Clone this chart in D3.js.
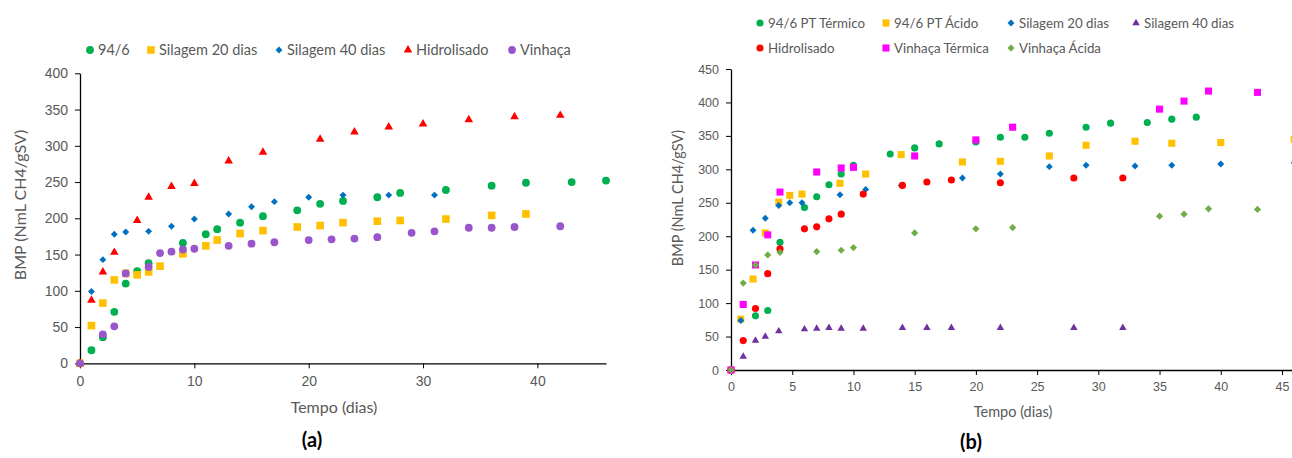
<!DOCTYPE html>
<html lang="pt">
<head>
<meta charset="utf-8">
<style>
  body { margin: 0; background: white; }
  svg { background: white; font-family: 'Lato', 'Open Sans', sans-serif; }
  .tick text { fill: #595959; }
  .axis path, .axis line { stroke: #000; }
  .legend text, .title { fill: #595959; }
  .panel { font-weight: bold; fill: #000; }
</style>
</head>
<body>
<svg width="1292" height="458"></svg>
<script src="https://cdn.jsdelivr.net/npm/d3@7"></script>
<script>
// ---- chart (a) data ----
const a9406X   = [0, 1, 2, 3, 4, 5, 6, 9, 11, 12, 14, 16, 19, 21, 23, 26, 28, 32, 36, 39, 43, 46]
const a9406Y   = [0, 18, 36, 71, 110, 127, 138, 166, 178, 185, 194, 203, 211, 220, 224, 229, 235, 239, 245, 249, 250, 252]
const aSil20X  = [0, 1, 2, 3, 4, 5, 6, 7, 9, 11, 12, 14, 16, 19, 21, 23, 26, 28, 32, 36, 39]
const aSil20Y  = [0, 52, 83, 115, 124, 122, 126, 134, 151, 162, 170, 179, 183, 188, 190, 194, 196, 197, 199, 204, 206]
const aSil40X  = [0, 1, 2, 3, 4, 6, 8, 10, 13, 15, 17, 20, 23, 27, 31]
const aSil40Y  = [0, 99, 143, 178, 181, 182, 189, 199, 206, 216, 223, 229, 232, 232, 232]
const aHidroX  = [0, 1, 2, 3, 5, 6, 8, 10, 13, 16, 21, 24, 27, 30, 34, 38, 42]
const aHidroY  = [0, 87, 126, 153, 197, 229, 244, 248, 279, 291, 309, 319, 326, 330, 336, 340, 342]
const aVinhX   = [0, 2, 3, 4, 6, 7, 8, 9, 10, 13, 15, 17, 20, 22, 24, 26, 29, 31, 34, 36, 38, 42]
const aVinhY   = [0, 40, 51, 124, 133, 152, 154, 157, 158, 162, 165, 167, 170, 171, 172, 174, 180, 182, 187, 187, 188, 189]

// ---- chart (b) data ----
const bTermX   = [0, 2, 3, 4, 6, 7, 8, 9, 10, 13, 15, 17, 20, 22, 24, 26, 29, 31, 34, 36, 38]
const bTermY   = [0, 81, 89, 191, 243, 259, 277, 293, 306, 323, 332, 338, 341, 348, 348, 354, 363, 369, 370, 375, 378]
const bAcidX   = [0, 0.8, 1.8, 2.8, 3.9, 4.8, 5.8, 8.9, 11, 13.9, 18.9, 22, 26, 29, 33, 36, 40, 46]
const bAcidY   = [0, 76, 136, 205, 251, 261, 263, 279, 293, 322, 311, 312, 320, 336, 342, 339, 340, 345]
const bSil20X  = [0, 0.8, 1.8, 2.8, 3.9, 4.8, 5.8, 8.9, 11, 13.9, 18.9, 22, 26, 29, 33, 36, 40, 46]
const bSil20Y  = [0, 74, 209, 227, 246, 250, 250, 262, 270, 276, 287, 293, 304, 306, 305, 306, 308, 310]
const bSil40X  = [0, 1, 2, 2.8, 3.9, 6, 7, 8, 9, 10.8, 14, 16, 18, 22, 28, 32]
const bSil40Y  = [0, 20, 44, 50, 58, 61, 62, 63, 62, 62, 63, 63, 63, 63, 63, 63]
const bHidroX  = [0, 1, 2, 3, 4, 6, 7, 8, 9, 10.8, 14, 16, 18, 22, 28, 32]
const bHidroY  = [0, 44, 92, 144, 181, 211, 214, 226, 233, 263, 276, 281, 284, 280, 287, 287]
const bVinhTX  = [0, 1, 2, 3, 4, 7, 9, 10, 15, 20, 23, 35, 37, 39, 43]
const bVinhTY  = [0, 98, 157, 202, 266, 296, 302, 303, 320, 344, 363, 390, 402, 417, 415]
const bVinhAX  = [0, 1, 2, 3, 4, 7, 9, 10, 15, 20, 23, 35, 37, 39, 43]
const bVinhAY  = [0, 130, 157, 172, 176, 177, 179, 183, 205, 211, 213, 230, 233, 241, 240]

const zip = (xs, ys) => xs.map((x, i) => ({x: x, y: ys[i]}))

const svg = d3.select("svg")

// marker shapes, roughly like the Excel ones (diamond = square turned 45deg)
const shapes = {
  circle:   s => d3.symbol(d3.symbolCircle, s)(),
  square:   s => d3.symbol(d3.symbolSquare, s)(),
  diamond:  s => d3.symbol(d3.symbolSquare, s)(),
  triangle: s => d3.symbol(d3.symbolTriangle, s)()
}

function drawChart(cfg) {
  const g = svg.append("g")
  const x = d3.scaleLinear().domain(cfg.xDomain).range(cfg.xRange)
  const y = d3.scaleLinear().domain(cfg.yDomain).range(cfg.yRange)

  g.append("g")
    .attr("class", "axis")
    .attr("transform", "translate(0," + cfg.yRange[0] + ")")
    .call(d3.axisBottom(x).tickValues(cfg.xTicks).tickSize(5).tickSizeOuter(0).tickPadding(cfg.xPad))
    .call(a => a.selectAll("text").style("font-size", cfg.tickFont + "px"))

  g.append("g")
    .attr("class", "axis")
    .attr("transform", "translate(" + cfg.xRange[0] + ",0)")
    .call(d3.axisLeft(y).tickValues(cfg.yTicks).tickSize(5).tickSizeOuter(0).tickPadding(7))
    .call(a => a.selectAll("text").style("font-size", cfg.tickFont + "px"))

  g.selectAll(".domain").attr("stroke-width", 1.3)

  cfg.series.forEach(function (s) {
    g.append("g").selectAll("path")
      .data(zip(s.xs, s.ys))
      .join("path")
      .attr("d", shapes[s.shape](s.size))
      .attr("fill", s.color)
      .attr("transform", d => "translate(" + x(d.x) + "," + y(d.y) + ")" + (s.shape == "diamond" ? " rotate(45)" : ""))
  })

  // legend
  const lg = g.append("g").attr("class", "legend")
  cfg.series.forEach(function (s, i) {
    const p = cfg.legendPos[i]
    lg.append("path")
      .attr("d", shapes[s.shape](s.size))
      .attr("fill", s.color)
      .attr("transform", "translate(" + p[0] + "," + p[1] + ")" + (s.shape == "diamond" ? " rotate(45)" : ""))
    lg.append("text")
      .attr("x", p[0] + 8)
      .attr("y", p[1])
      .attr("dy", "0.36em")
      .style("font-size", cfg.legendFont + "px")
      .text(s.name)
  })

  g.append("text")
    .attr("class", "title")
    .attr("transform", "translate(" + cfg.yTitle[0] + "," + cfg.yTitle[1] + ") rotate(-90)")
    .attr("text-anchor", "middle")
    .attr("dy", "0.36em")
    .style("font-size", cfg.titleFont + "px")
    .text("BMP (NmL CH4/gSV)")

  g.append("text")
    .attr("class", "title")
    .attr("x", cfg.xTitle[0]).attr("y", cfg.xTitle[1])
    .attr("text-anchor", "middle")
    .attr("dy", "0.36em")
    .style("font-size", cfg.titleFont + "px")
    .text("Tempo (dias)")

  g.append("text")
    .attr("class", "panel")
    .attr("x", cfg.panel[0]).attr("y", cfg.panel[1])
    .attr("text-anchor", "middle")
    .attr("dy", "0.36em")
    .style("font-size", "20px")
    .text(cfg.label)
}

drawChart({
  label: "(a)",
  xDomain: [0, 46], xRange: [80, 606],
  yDomain: [0, 400], yRange: [363.3, 73.3],
  xTicks: d3.range(0, 41, 10), yTicks: d3.range(0, 401, 50),
  xPad: 8, tickFont: 14, legendFont: 14.5, titleFont: 16,
  yTitle: [20, 205], xTitle: [334, 407], panel: [312, 440],
  legendPos: [[90, 50], [151, 50], [279, 50], [408, 50], [512, 50]],
  series: [
    {name: "94/6", xs: a9406X, ys: a9406Y, shape: "circle", size: 48, color: "#00B050"},
    {name: "Silagem 20 dias", xs: aSil20X, ys: aSil20Y, shape: "square", size: 58, color: "#FFC000"},
    {name: "Silagem 40 dias", xs: aSil40X, ys: aSil40Y, shape: "diamond", size: 24, color: "#0070C0"},
    {name: "Hidrolisado", xs: aHidroX, ys: aHidroY, shape: "triangle", size: 32, color: "#FF0000"},
    {name: "Vinhaça", xs: aVinhX, ys: aVinhY, shape: "circle", size: 48, color: "#9955CC"}
  ]
})

// x axis of (b) runs past the picture's right edge, as in the reference
drawChart({
  label: "(b)",
  xDomain: [0, 50], xRange: [731, 731 + 50 * 12.244],
  yDomain: [0, 450], yRange: [370, 69],
  xTicks: d3.range(0, 46, 5), yTicks: d3.range(0, 451, 50),
  xPad: 7, tickFont: 12.5, legendFont: 13.3, titleFont: 14.5,
  yTitle: [678, 198], xTitle: [1013, 412], panel: [971, 442],
  legendPos: [[760, 23], [886, 23], [1011, 23], [1136, 23], [760, 48], [886, 48], [1011, 48]],
  series: [
    {name: "94/6 PT Térmico", xs: bTermX, ys: bTermY, shape: "circle", size: 40, color: "#00B050"},
    {name: "94/6 PT Ácido", xs: bAcidX, ys: bAcidY, shape: "square", size: 50, color: "#FFC000"},
    {name: "Silagem 20 dias", xs: bSil20X, ys: bSil20Y, shape: "diamond", size: 24, color: "#0070C0"},
    {name: "Silagem 40 dias", xs: bSil40X, ys: bSil40Y, shape: "triangle", size: 24, color: "#7030A0"},
    {name: "Hidrolisado", xs: bHidroX, ys: bHidroY, shape: "circle", size: 40, color: "#FF0000"},
    {name: "Vinhaça Térmica", xs: bVinhTX, ys: bVinhTY, shape: "square", size: 50, color: "#FF00FF"},
    {name: "Vinhaça Ácida", xs: bVinhAX, ys: bVinhAY, shape: "diamond", size: 26, color: "#70AD47"}
  ]
})
</script>
</body>
</html>
